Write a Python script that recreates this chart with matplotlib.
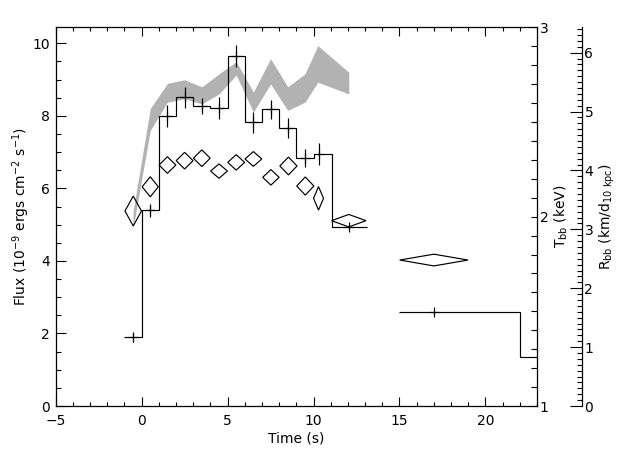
import matplotlib
matplotlib.use("Agg")
import matplotlib.pyplot as plt
from matplotlib.patches import Polygon
from matplotlib.ticker import MultipleLocator

plt.rcParams['font.family'] = ['DejaVu Sans']
plt.rcParams['mathtext.default'] = 'regular'
plt.rcParams['font.size'] = 10

# ---- data ----
# flux histogram (left axis)
edges1 = [-1, 0, 1, 2, 3, 4, 5, 6, 7, 8, 9, 10, 11.1, 13.1]
flux1 = [1.89, 5.40, 8.00, 8.51, 8.27, 8.21, 9.65, 7.82, 8.18, 7.66, 6.83, 6.94, 4.93]
edges2 = [15, 22, 23]
flux2 = [2.58, 1.34]

# flux points with error bars
pt_t = [-0.5, 0.5, 1.5, 2.5, 3.5, 4.5, 5.5, 6.5, 7.5, 8.5, 9.5, 10.3, 12.05, 17.0]
pt_f = [1.89, 5.40, 8.00, 8.51, 8.27, 8.21, 9.65, 7.82, 8.18, 7.66, 6.83, 6.94, 4.93, 2.58]
pt_err = [0.13, 0.18, 0.30, 0.29, 0.23, 0.30, 0.31, 0.28, 0.26, 0.27, 0.25, 0.30, 0.07, 0.05]

# blackbody temperature (diamonds, T_bb axis)
d_t = [-0.49, 0.50, 1.50, 2.50, 3.50, 4.50, 5.50, 6.50, 7.52, 8.54, 9.52, 10.29, 12.05, 17.0]
d_dt = [0.48, 0.47, 0.49, 0.49, 0.49, 0.49, 0.49, 0.49, 0.48, 0.50, 0.50, 0.29, 1.00, 1.99]
d_T = [2.030, 2.158, 2.273, 2.296, 2.309, 2.241, 2.287, 2.305, 2.208, 2.268, 2.162, 2.097, 1.979, 1.771]
d_dT = [0.079, 0.053, 0.044, 0.044, 0.044, 0.038, 0.041, 0.039, 0.041, 0.047, 0.048, 0.062, 0.033, 0.031]

# blackbody radius band (R_bb axis)
b_t = [-0.5, 0.5, 1.5, 2.5, 3.5, 4.5, 5.5, 6.5, 7.5, 8.5, 9.5, 10.25, 12.05]
b_hi = [3.30, 5.05, 5.48, 5.54, 5.42, 5.64, 5.85, 5.33, 5.90, 5.42, 5.64, 6.12, 5.67]
b_lo = [3.02, 4.68, 5.16, 5.22, 5.13, 5.30, 5.62, 4.99, 5.47, 5.02, 5.16, 5.50, 5.30]

# ---- figure ----
W, H = 640, 457
fig = plt.figure(figsize=(W / 100, H / 100), dpi=100)
L, R_, T_, B_ = 55.7, 537.0, 27.4, 406.0
ax = fig.add_axes([L / W, (H - B_) / H, (R_ - L) / W, (B_ - T_) / H])
ax_r = ax.twinx()
ax_t = ax.twinx()

for a in (ax, ax_r, ax_t):
    a.patch.set_visible(False)
ax_r.set_zorder(1)
ax.set_zorder(2)
ax_t.set_zorder(3)

lw = 0.85
# band
ax_r.fill_between(b_t, b_lo, b_hi, color='#b2b2b2', linewidth=0)
ax_r.set_ylim(0, 6.43)

# histogram
ax.stairs(flux1, edges1, baseline=None, color='black', linewidth=lw)
ax.stairs(flux2, edges2, baseline=None, color='black', linewidth=lw)
ax.errorbar(pt_t, pt_f, yerr=pt_err, fmt='+', color='black', markersize=7,
            markeredgewidth=lw, elinewidth=lw, capsize=0)
ax.set_xlim(-5, 23)
ax.set_ylim(0, 10.44)

# diamonds
for t, dt, T, dT in zip(d_t, d_dt, d_T, d_dT):
    poly = Polygon([(t - dt, T), (t, T + dT), (t + dt, T), (t, T - dT)],
                   closed=True, facecolor='none', edgecolor='black', linewidth=lw)
    ax_t.add_patch(poly)
ax_t.set_ylim(1, 3)

# ---- axes styling ----
ax.spines['right'].set_visible(False)
ax.tick_params(axis='x', which='both', direction='in', top=True, bottom=True)
ax.tick_params(axis='x', which='major', length=6.5, width=0.8, pad=6)
ax.tick_params(axis='x', which='minor', length=3, width=0.8)
ax.tick_params(axis='y', which='both', direction='in', left=True, right=False)
ax.tick_params(axis='y', which='major', length=7, width=0.8, pad=4)
ax.tick_params(axis='y', which='minor', length=3.5, width=0.8)
ax.xaxis.set_major_locator(MultipleLocator(5))
ax.xaxis.set_minor_locator(MultipleLocator(1))
ax.yaxis.set_major_locator(MultipleLocator(2))
ax.yaxis.set_minor_locator(MultipleLocator(0.5))
for s in ('left', 'bottom', 'top'):
    ax.spines[s].set_linewidth(0.9)
ax.set_xlabel('Time (s)')
ax.set_ylabel('Flux (10$^{-9}$ ergs cm$^{-2}$ s$^{-1}$)')
ax.xaxis.set_label_coords(0.5, -0.068)
ax.yaxis.set_label_coords(-0.05, 0.5)

# T axis
for s in ('left', 'top', 'bottom'):
    ax_t.spines[s].set_visible(False)
ax_t.spines['right'].set_linewidth(0.9)
ax_t.yaxis.set_major_locator(MultipleLocator(1))
ax_t.yaxis.set_minor_locator(MultipleLocator(0.1))
ax_t.tick_params(axis='y', which='both', direction='in', length=4, width=0.8, pad=2)
ax_t.set_ylabel('T$_{bb}$ (keV)', rotation=90)
ax_t.yaxis.set_label_coords(1.033, 0.5)

# R axis
for s in ('left', 'top', 'bottom'):
    ax_r.spines[s].set_visible(False)
ax_r.spines['right'].set_position(('axes', (581.7 - L) / (R_ - L)))
ax_r.spines['right'].set_linewidth(0.9)
ax_r.yaxis.set_major_locator(MultipleLocator(1))
ax_r.yaxis.set_minor_locator(MultipleLocator(0.1))
ax_r.tick_params(axis='y', which='major', direction='in', length=8.5, width=0.8, pad=2)
ax_r.tick_params(axis='y', which='minor', direction='in', length=3.6, width=0.8)
ax_r.set_ylabel('R$_{bb}$ (km/d$_{10\\ kpc}$)', rotation=90)
ax_r.yaxis.set_label_coords((598.0 - L) / (R_ - L), 0.5)

fig.savefig('out.png', dpi=100)
